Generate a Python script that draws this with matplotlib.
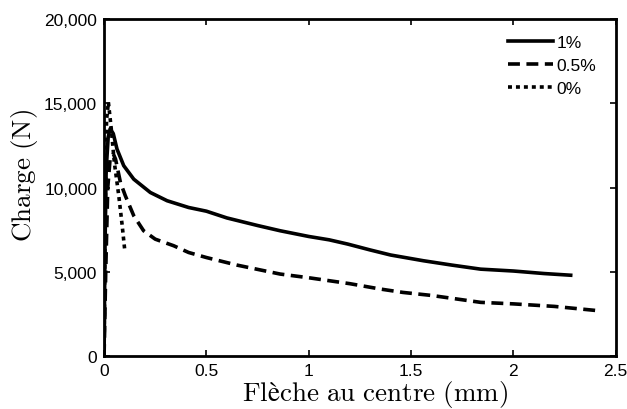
import matplotlib
matplotlib.use("Agg")
import matplotlib.pyplot as plt

# ---- data ----
solid_x = [0, 0.004, 0.01, 0.02, 0.03, 0.045, 0.063, 0.096, 0.145, 0.226, 0.308, 0.413, 0.5, 0.6,
           0.75, 0.86, 1.0, 1.1, 1.19, 1.3, 1.4, 1.56, 1.7, 1.84, 2.0, 2.15, 2.28]
solid_y = [0, 6000, 11000, 13000, 13500, 13200, 12290, 11300, 10500, 9710, 9220, 8820, 8600, 8200,
           7750, 7440, 7100, 6900, 6650, 6300, 6000, 5660, 5400, 5160, 5050, 4900, 4800]

dashed_x = [0, 0.008, 0.018, 0.03, 0.045, 0.056, 0.08, 0.104, 0.145, 0.193, 0.25, 0.34, 0.413, 0.5, 0.65,
            0.86, 1.0, 1.2, 1.35, 1.46, 1.6, 1.84, 2.0, 2.2, 2.41]
dashed_y = [0, 5000, 10000, 11800, 12000, 11690, 10300, 9510, 8330, 7440, 6940, 6550, 6150, 5850, 5400,
            4870, 4650, 4300, 3980, 3780, 3600, 3190, 3100, 2950, 2700]

dotted_x = [0, 0.005, 0.012, 0.021, 0.035, 0.05, 0.072, 0.088, 0.102]
dotted_y = [0, 8000, 14000, 15070, 13500, 11500, 9500, 7800, 6170]

labels = ["1%", "0.5%", "0%"]
xticks = [0, 0.5, 1, 1.5, 2, 2.5]
xtick_labels = ["0", "0.5", "1", "1.5", "2", "2.5"]
yticks = [0, 5000, 10000, 15000, 20000]
ytick_labels = ["0", "5,000", "10,000", "15,000", "20,000"]

plt.rcParams["mathtext.fontset"] = "cm"
plt.rcParams["font.family"] = ["Liberation Sans", "DejaVu Sans"]

fig = plt.figure(figsize=(6.27, 4.10), dpi=100)
ax = fig.add_axes([0.166, 0.129, 0.816, 0.822])

lw = 2.6
ax.plot(solid_x, solid_y, color="black", lw=lw, ls="-", label=labels[0])
ax.plot(dashed_x, dashed_y, color="black", lw=lw, ls=(0, (3.3, 1.8)), label=labels[1])
ax.plot(dotted_x, dotted_y, color="black", lw=lw, ls=(0, (1.1, 1.1)), label=labels[2])

ax.set_xlim(0, 2.5)
ax.set_ylim(0, 20000)
ax.set_xticks(xticks)
ax.set_xticklabels(xtick_labels)
ax.set_yticks(yticks)
ax.set_yticklabels(ytick_labels)
ax.tick_params(direction="in", length=4, width=1.2, labelsize=12.5,
               top=True, right=True, pad=5, colors="black")
for s in ax.spines.values():
    s.set_linewidth(2.0)

ax.set_xlabel(r"$\mathrm{Flèche\ au\ centre\ (mm)}$", fontsize=19.5)
ax.set_ylabel(r"$\mathrm{Charge\ (N)}$", fontsize=19.5)
ax.xaxis.set_label_coords(0.529, -0.065, transform=ax.transAxes)
ax.yaxis.set_label_coords(-0.126, 0.54, transform=ax.transAxes)

ax.legend(loc="upper right", frameon=False, fontsize=12.5, handlelength=2.6,
          handletextpad=0.2, labelspacing=0.45, borderaxespad=0.3,
          bbox_to_anchor=(0.985, 0.99))

fig.savefig("out.png", dpi=100)
